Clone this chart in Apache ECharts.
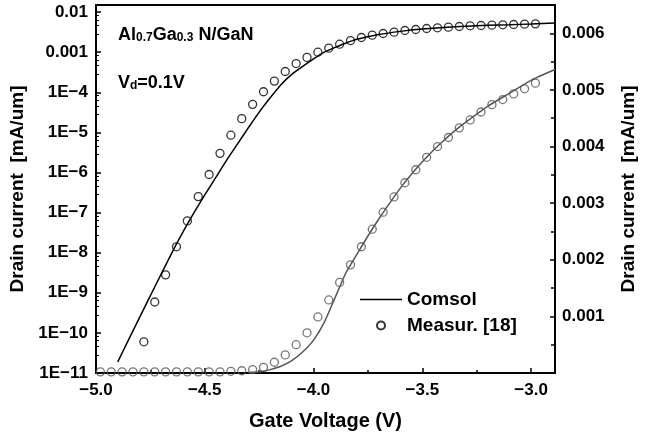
<!DOCTYPE html>
<html>
<head>
<meta charset="utf-8">
<script src="https://cdn.jsdelivr.net/npm/echarts@6/dist/echarts.min.js"></script>
<style>
  html, body { margin: 0; padding: 0; background: #fff; }
  #chart { width: 655px; height: 436px; }
</style>
</head>
<body>
<div id="chart"></div>
<script>
// measured gate voltages (V)
const measVg = [-4.98, -4.93, -4.88, -4.83, -4.78, -4.73, -4.68, -4.63, -4.58, -4.53,
  -4.48, -4.43, -4.38, -4.33, -4.28, -4.23, -4.18, -4.13, -4.08, -4.03,
  -3.98, -3.93, -3.88, -3.83, -3.78, -3.73, -3.68, -3.63, -3.58, -3.53,
  -3.48, -3.43, -3.38, -3.33, -3.28, -3.23, -3.18, -3.13, -3.08, -3.03, -2.98];
// measured current, log axis (black); null = no point
const measLogI = [null, null, null, null, 6.0e-11, 5.9e-10, 2.8e-9, 1.4e-8, 6.2e-8, 2.5e-7,
  8.9e-7, 3.0e-6, 8.5e-6, 2.2e-5, 5.0e-5, 1.03e-4, 1.9e-4, 3.3e-4, 5.2e-4, 7.4e-4,
  1.0e-3, 1.26e-3, 1.58e-3, 1.95e-3, 2.32e-3, 2.66e-3, 2.92e-3, 3.16e-3, 3.47e-3, 3.67e-3,
  3.89e-3, 4.05e-3, 4.21e-3, 4.36e-3, 4.54e-3, 4.62e-3, 4.72e-3, 4.81e-3, 4.89e-3, 5.0e-3, 5.08e-3];
// measured current, linear axis (gray)
const measLinI = [0.00002, 0.00002, 0.00002, 0.00002, 0.00002, 0.00002, 0.00002, 0.00002, 0.00002, 0.00002,
  0.00002, 0.00002, 0.00003, 0.00004, 0.00006, 0.00010, 0.00019, 0.00032, 0.00050, 0.00071,
  0.00099, 0.00129, 0.00160, 0.00191, 0.00223, 0.00254, 0.00284, 0.00311, 0.00336, 0.00359,
  0.00381, 0.00400, 0.00416, 0.00433, 0.00447, 0.00461, 0.00474, 0.00483, 0.00493, 0.00502, 0.00512];

// Comsol simulation, log axis
const comsolVgLog = [-4.90, -4.85, -4.80, -4.75, -4.70, -4.65, -4.60, -4.55, -4.50, -4.45,
  -4.40, -4.35, -4.30, -4.25, -4.20, -4.15, -4.10, -4.05, -4.00, -3.95,
  -3.90, -3.85, -3.80, -3.70, -3.60, -3.50, -3.40, -3.30, -3.20, -3.10, -3.00, -2.89];
const comsolLogI = [1.9e-11, 6.8e-11, 2.4e-10, 8.5e-10, 2.95e-9, 1.02e-8, 3.3e-8, 9.8e-8, 2.75e-7, 7.4e-7,
  2.0e-6, 5.1e-6, 1.29e-5, 3.2e-5, 7.2e-5, 1.55e-4, 2.8e-4, 4.4e-4, 6.8e-4, 1.0e-3,
  1.32e-3, 1.7e-3, 2.09e-3, 2.75e-3, 3.3e-3, 3.76e-3, 4.12e-3, 4.45e-3, 4.68e-3, 4.84e-3, 5.03e-3, 5.3e-3];

// Comsol simulation, linear axis
const comsolVgLin = [-4.30, -4.25, -4.20, -4.15, -4.10, -4.05, -4.00, -3.95, -3.90, -3.85,
  -3.80, -3.75, -3.70, -3.65, -3.60, -3.55, -3.50, -3.45, -3.40, -3.35,
  -3.30, -3.20, -3.10, -3.00, -2.89];
const comsolLinI = [0.000008, 0.00002, 0.00006, 0.00012, 0.00022, 0.00037, 0.00058, 0.00090, 0.00134, 0.00178,
  0.00210, 0.00242, 0.00272, 0.00300, 0.00327, 0.00351, 0.00373, 0.00393, 0.00411, 0.00428,
  0.00443, 0.00471, 0.00494, 0.00517, 0.00536];

const FONT = '"Liberation Sans", Arial, sans-serif';

function pairs(xs, ys) {
  const out = [];
  xs.forEach((x, i) => { if (ys[i] != null) out.push([x, ys[i]]); });
  return out;
}

const rich = {
  a: { fontFamily: FONT, fontWeight: 'bold', fontSize: 18, lineHeight: 18, verticalAlign: 'top', fill: '#000' },
  s: { fontFamily: FONT, fontWeight: 'bold', fontSize: 12, lineHeight: 12, padding: [8, 0, 0, 0], verticalAlign: 'bottom', fill: '#000' }
};

const chart = echarts.init(document.getElementById('chart'));

const option = {
  animation: false,
  grid: {
    left: 96, right: 100, top: 5, bottom: 62,
    show: true, borderColor: '#000', borderWidth: 2
  },
  legend: {
    orient: 'vertical',
    left: 360, top: 290, padding: 0,
    itemWidth: 42, itemHeight: 8, itemGap: 7,
    selectedMode: false,
    textStyle: { fontFamily: FONT, fontWeight: 'bold', fontSize: 19, color: '#000' },
    data: [
      { name: 'Comsol', icon: 'path://M0,0L42,0L42,1.6L0,1.6Z' },
      { name: 'Measur. [18]' }
    ]
  },
  graphic: [
    {
      type: 'text', left: 118, top: 24,
      style: { text: '{a|Al}{s|0.7}{a|Ga}{s|0.3}{a| N/GaN}', rich: rich }
    },
    {
      type: 'text', left: 118, top: 72,
      style: { text: '{a|V}{s|d}{a|=0.1V}', rich: rich }
    }
  ],
  xAxis: {
    type: 'value',
    min: -5.0, max: -2.89, interval: 0.5,
    name: 'Gate Voltage (V)',
    nameLocation: 'middle', nameGap: 38,
    nameTextStyle: { fontFamily: FONT, fontWeight: 'bold', fontSize: 20, color: '#000' },
    axisLine: { lineStyle: { color: '#000', width: 2 } },
    axisTick: { inside: true, length: 5, lineStyle: { color: '#000', width: 1.5 } },
    minorTick: { show: true, splitNumber: 2, length: 3, lineStyle: { color: '#000', width: 1.5 } },
    axisLabel: {
      fontFamily: FONT, fontWeight: 'bold', fontSize: 17, color: '#000', margin: 9,
      showMaxLabel: false,
      formatter: v => v.toFixed(1).replace('-', '\u2212')
    },
    splitLine: { show: false }
  },
  yAxis: [
    {
      type: 'log', logBase: 10,
      min: 1e-11, max: 0.015, splitNumber: 10,
      position: 'left',
      name: 'Drain current  [mA/um]',
      nameLocation: 'middle', nameGap: 62, nameRotate: 90,
      nameTextStyle: { fontFamily: FONT, fontWeight: 'bold', fontSize: 19, color: '#000' },
      axisLine: { show: true, lineStyle: { color: '#000', width: 2 } },
      axisTick: { inside: true, length: 5, lineStyle: { color: '#000', width: 1.5 } },
      minorTick: { show: true, splitNumber: 5, length: 3, lineStyle: { color: '#000', width: 1 } },
      axisLabel: {
        fontFamily: FONT, fontWeight: 'bold', fontSize: 17, color: '#000', margin: 8,
        showMaxLabel: false,
        formatter: v => {
          const e = Math.round(Math.log10(v));
          return e >= -3 ? Math.pow(10, e).toFixed(-e) : '1E\u2212' + (-e);
        }
      },
      splitLine: { show: false }
    },
    {
      type: 'value',
      min: 0, max: 0.0065, interval: 0.001,
      position: 'right',
      name: 'Drain current  [mA/um]',
      nameLocation: 'middle', nameGap: 64, nameRotate: 90,
      nameTextStyle: { fontFamily: FONT, fontWeight: 'bold', fontSize: 19, color: '#000' },
      axisLine: { show: true, lineStyle: { color: '#000', width: 2 } },
      axisTick: { inside: true, length: 5, lineStyle: { color: '#000', width: 1.5 } },
      minorTick: { show: true, splitNumber: 2, length: 4, lineStyle: { color: '#000', width: 1.5 } },
      axisLabel: {
        fontFamily: FONT, fontWeight: 'bold', fontSize: 17, color: '#000', margin: 7,
        showMinLabel: false, showMaxLabel: false,
        formatter: v => v.toFixed(3)
      },
      splitLine: { show: false }
    }
  ],
  series: [
    {
      name: 'Comsol', type: 'line', yAxisIndex: 0,
      data: pairs(comsolVgLog, comsolLogI),
      symbol: 'none', smooth: 0.2,
      lineStyle: { color: '#000', width: 1.5 },
      itemStyle: { color: '#000' }
    },
    {
      name: 'Measur. [18]', type: 'scatter', yAxisIndex: 0,
      data: pairs(measVg, measLogI),
      symbol: 'circle', symbolSize: 8,
      itemStyle: { color: 'rgba(255,255,255,0)', borderColor: '#000', borderWidth: 1.3 }
    },
    {
      name: 'Comsol', type: 'line', yAxisIndex: 1,
      data: pairs(comsolVgLin, comsolLinI),
      symbol: 'none', smooth: 0.2,
      lineStyle: { color: '#555', width: 1.5 },
      itemStyle: { color: '#555' }
    },
    {
      name: 'Measur. [18]', type: 'scatter', yAxisIndex: 1,
      data: pairs(measVg, measLinI),
      symbol: 'circle', symbolSize: 8,
      itemStyle: { color: 'rgba(255,255,255,0)', borderColor: '#555', borderWidth: 1.3 }
    }
  ]
};

chart.setOption(option);
</script>
</body>
</html>
